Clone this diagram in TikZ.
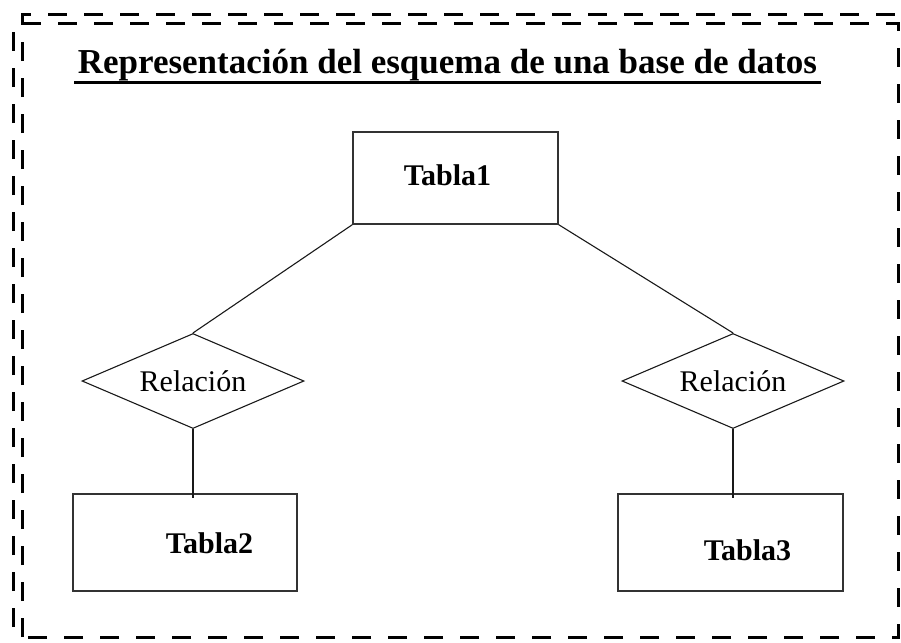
\documentclass[tikz,border=0pt]{standalone}
\usepackage{fontspec}
\setmainfont{Liberation Serif}
\usetikzlibrary{shapes.geometric, calc, positioning}

\begin{document}
\begin{tikzpicture}[x=1pt, y=-1pt,
  tabla/.style={rectangle, draw=black!80, line width=1.4pt, inner sep=0pt},
  tname/.style={anchor=base, font=\fontsize{30}{36}\selectfont\bfseries},
  rel/.style={diamond, draw=black!90, line width=1.1pt, aspect=2.3, inner sep=0pt,
              minimum width=222pt, minimum height=95pt,
              font=\fontsize{30}{36}\selectfont},
  link/.style={draw=black!90, line width=1.1pt},
  marco/.style={line width=3pt, dash pattern=on 19pt off 17pt}
]
  \useasboundingbox (0,0) rectangle (901,642);

  % marco punteado
  \draw[marco] (22,637) -- (22,15) -- (901,15);
  \draw[marco] (13,627) -- (13,24) -- (898,24) -- (898,637) -- (22,637);

  \node[anchor=base, font=\fontsize{35}{42}\selectfont\bfseries] (titulo) at (447.5,74)
    {Representación del esquema de una base de datos};
  \draw[line width=3pt] ($(titulo.base west)+(0,8)$) -- ($(titulo.base east)+(0,8)$);

  \node[tabla, minimum width=205pt, minimum height=92pt] (t1) at (455.5,178) {};
  \node[tabla, minimum width=224pt, minimum height=97pt] (t2) at (185,542.5) {};
  \node[tabla, minimum width=225pt, minimum height=97pt] (t3) at (730.5,542.5) {};
  \node[tname] (t1n) at (447.5,185) {Tabla1};
  \node[tname] (t2n) at (209.5,553) {Tabla2};
  \node[tname] (t3n) at (747.5,560) {Tabla3};

  \node[rel] (r1) at (193,381) {Relación};
  \node[rel] (r2) at (733,381) {Relación};

  \draw[link] (t1.south west) -- (r1.north);
  \draw[link] (t1.south east) -- (r2.north);
  \draw[link, shorten >=-5pt] (r1.south) -- (r1.south |- t2.north);
  \draw[link, shorten >=-5pt] (r2.south) -- (r2.south |- t3.north);
\end{tikzpicture}
\end{document}
